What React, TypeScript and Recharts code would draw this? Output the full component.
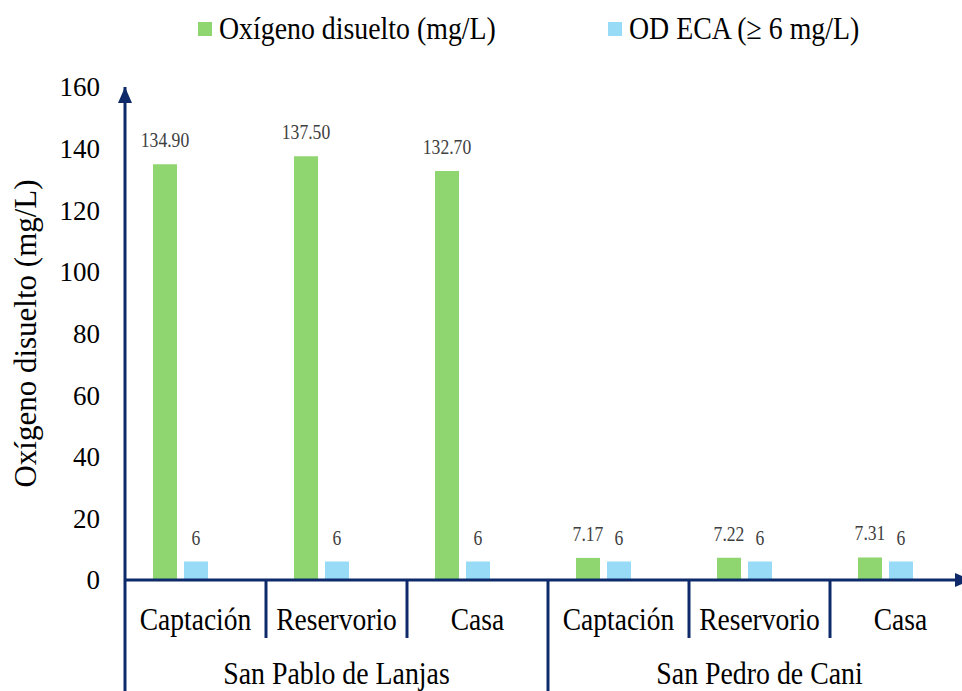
import { Bar, BarChart, LabelList, XAxis, YAxis } from "recharts";

const SITIOS = ["Captación", "Reservorio", "Casa", "Captación", "Reservorio", "Casa"];
const COMUNIDADES = [
  "San Pablo de Lanjas",
  "San Pablo de Lanjas",
  "San Pablo de Lanjas",
  "San Pedro de Cani",
  "San Pedro de Cani",
  "San Pedro de Cani",
];
const OXIGENO = [134.9, 137.5, 132.7, 7.17, 7.22, 7.31];
const OD_ECA = [6, 6, 6, 6, 6, 6];
const Y_TICKS = [0, 20, 40, 60, 80, 100, 120, 140, 160];

const SERIE_OD = "Oxígeno disuelto (mg/L)";
const SERIE_ECA = "OD ECA (≥ 6 mg/L)";
const TITULO_Y = "Oxígeno disuelto (mg/L)";

const VERDE = "#90D670";
const CELESTE = "#97DBF7";
const EJE = "#0F2A6A";
const FONT = "Liberation Serif, DejaVu Serif, serif";

// third slot is an empty series, it only keeps the space next to the pair of bars
const data = SITIOS.map((sitio, i) => ({
  sitio,
  comunidad: COMUNIDADES[i],
  oxigeno: OXIGENO[i],
  eca: OD_ECA[i],
  sinDatos: null,
}));

function SitioTick(props: any) {
  const { x, y, payload, index, width, visibleTicksCount } = props;
  const half = payload.offset ?? width / visibleTicksCount / 2;
  const left = x - half;
  const inicioGrupo = index === 0 || COMUNIDADES[index] !== COMUNIDADES[index - 1];
  return (
    <g>
      <line x1={left} x2={left} y1={y} y2={y + (inicioGrupo ? 160 : 58)} stroke={EJE} strokeWidth={3} />
      <g transform={`translate(${x},${y + 50}) scale(0.86,1)`}>
        <text textAnchor="middle" fontSize={32} fontFamily={FONT} fill="#000">
          {payload.value}
        </text>
      </g>
    </g>
  );
}

function ComunidadTick(props: any) {
  const { x, y, payload } = props;
  return (
    <g transform={`translate(${x},${y + 44}) scale(0.87,1)`}>
      <text textAnchor="middle" fontSize={32} fontFamily={FONT} fill="#000">
        {payload.value}
      </text>
    </g>
  );
}

function ValorTick(props: any) {
  const { x, y, payload } = props;
  return (
    <text x={x} y={y} dy="0.35em" textAnchor="end" fontSize={27} fontFamily={FONT} fill="#000">
      {payload.value}
    </text>
  );
}

const etiqueta = (decimales: number) => (props: any) => {
  const { x, y, width, value } = props;
  if (value == null) return null;
  return (
    <g transform={`translate(${Number(x) + Number(width) / 2},${Number(y) - 17}) scale(0.88,1)`}>
      <text textAnchor="middle" fontSize={20} fontFamily={FONT} fill="#404040">
        {Number(value).toFixed(decimales)}
      </text>
    </g>
  );
};

function TituloY(props: any) {
  const vb = props.viewBox;
  return (
    <text
      transform={`translate(${vb.x + 36},${vb.y + vb.height / 2}) rotate(-90)`}
      textAnchor="middle"
      fontSize={31}
      fontFamily={FONT}
      fill="#000"
    >
      {TITULO_Y}
    </text>
  );
}

function Leyenda() {
  const items = [
    { nombre: SERIE_OD, color: VERDE, left: 198 },
    { nombre: SERIE_ECA, color: CELESTE, left: 608 },
  ];
  return (
    <>
      {items.map((it) => (
        <div key={it.nombre} style={{ position: "absolute", left: it.left, top: 0, height: 60 }}>
          <span
            style={{ position: "absolute", left: 0, top: 22, width: 14, height: 14, background: it.color }}
          />
          <span
            style={{
              position: "absolute",
              left: 21,
              top: 12,
              fontSize: 32,
              lineHeight: "32px",
              fontFamily: FONT,
              color: "#000",
              whiteSpace: "nowrap",
              display: "inline-block",
              transform: "scaleX(0.87)",
              transformOrigin: "left center",
            }}
          >
            {it.nombre}
          </span>
        </div>
      ))}
    </>
  );
}

export default function App() {
  return (
    <div
      style={{
        position: "absolute",
        left: 0,
        top: 0,
        width: 962,
        height: 691,
        overflow: "hidden",
        background: "#fff",
        fontFamily: FONT,
      }}
    >
      <svg width={0} height={0} style={{ position: "absolute" }}>
        <defs>
          <marker
            id="flecha"
            viewBox="0 0 16 14"
            refX={16}
            refY={7}
            markerWidth={16}
            markerHeight={14}
            markerUnits="userSpaceOnUse"
            orient="auto-start-reverse"
          >
            <path d="M0,0 L16,7 L0,14 Z" fill={EJE} />
          </marker>
        </defs>
      </svg>
      <BarChart
        width={980}
        height={720}
        data={data}
        margin={{ top: 87, right: 9, bottom: 20, left: 0 }}
        barSize={24}
        barGap={7}
      >
        <YAxis
          width={125}
          domain={[0, 160]}
          ticks={Y_TICKS}
          tickLine={false}
          tickSize={0}
          tickMargin={25}
          tick={<ValorTick />}
          axisLine={{ stroke: EJE, strokeWidth: 3, markerStart: "url(#flecha)" }}
          label={{ content: (p: any) => <TituloY {...p} /> }}
        />
        <XAxis
          dataKey="sitio"
          height={60}
          interval={0}
          tickLine={false}
          tickSize={0}
          tickMargin={0}
          tick={<SitioTick />}
          axisLine={{ stroke: EJE, strokeWidth: 3, markerEnd: "url(#flecha)" }}
        />
        <XAxis
          xAxisId="grupo"
          dataKey="comunidad"
          allowDuplicatedCategory={false}
          height={60}
          interval={0}
          tickLine={false}
          tickSize={0}
          tickMargin={0}
          axisLine={false}
          tick={<ComunidadTick />}
        />
        <Bar dataKey="oxigeno" name={SERIE_OD} fill={VERDE} isAnimationActive={false}>
          <LabelList dataKey="oxigeno" content={etiqueta(2)} />
        </Bar>
        <Bar dataKey="eca" name={SERIE_ECA} fill={CELESTE} isAnimationActive={false}>
          <LabelList dataKey="eca" content={etiqueta(0)} />
        </Bar>
        <Bar dataKey="sinDatos" fill="none" isAnimationActive={false} legendType="none" />
      </BarChart>
      <Leyenda />
    </div>
  );
}
